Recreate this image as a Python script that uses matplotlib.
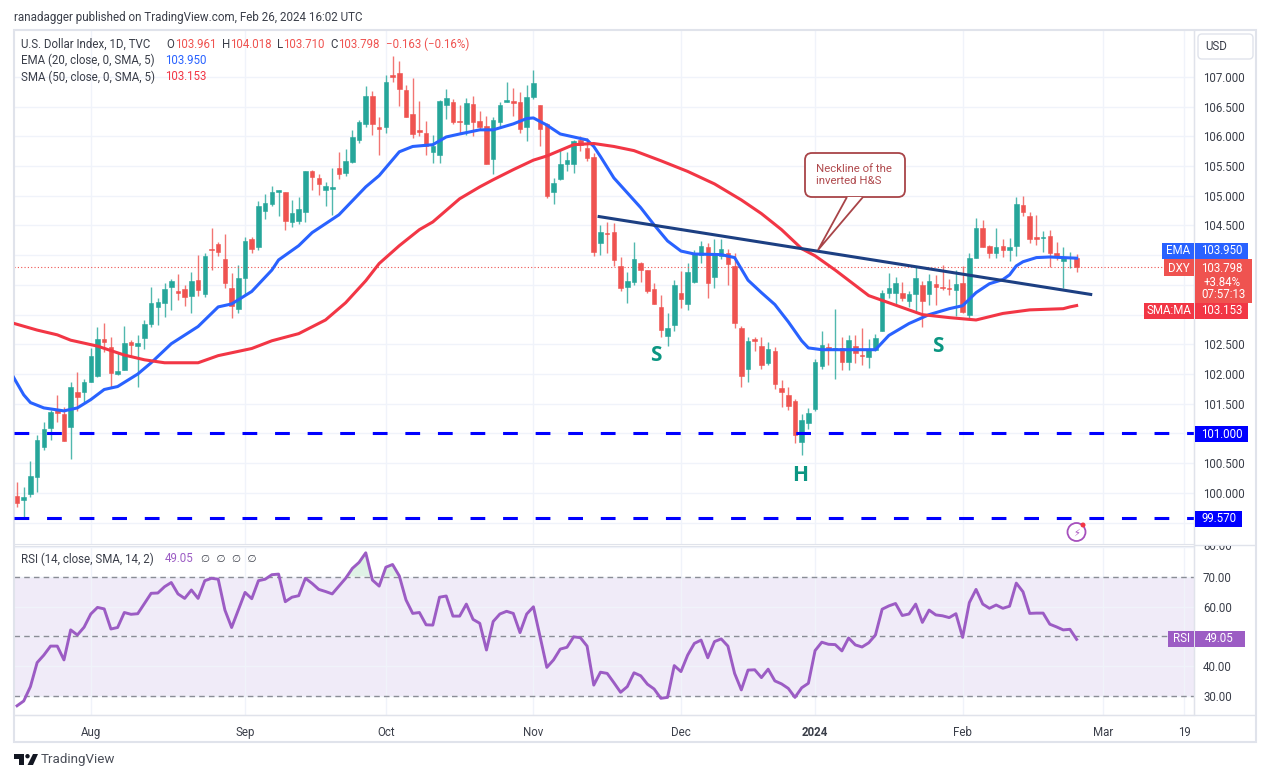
import numpy as np
import matplotlib
matplotlib.use('Agg')
import matplotlib.pyplot as plt
from matplotlib.patches import Rectangle, FancyBboxPatch, Polygon, Circle
from matplotlib.transforms import Affine2D, Bbox

W, H = 1266, 770

opens = [99.95, 99.88, 99.98, 100.27, 100.77, 101.09, 101.42, 101.33, 101.11, 101.70,
         101.70, 101.87, 101.96, 102.59, 102.46, 102.00, 102.07, 102.54, 102.47, 102.61,
         102.85, 103.13, 103.20, 103.47, 103.40, 103.43, 103.32, 103.58, 103.35, 104.11,
         104.19, 103.94, 103.45, 103.10, 103.62, 104.28, 104.13, 104.75, 104.87, 105.07,
         105.07, 104.56, 104.58, 104.73, 105.41, 105.30, 105.09, 105.12, 105.46, 105.39,
         105.57, 105.94, 106.21, 106.68, 106.16, 106.16, 107.04, 107.07, 106.78, 106.38,
         106.11, 106.05, 105.73, 105.68, 106.53, 106.58, 106.26, 106.21, 106.55, 106.26,
         106.18, 105.62, 106.25, 106.58, 106.60, 106.58, 106.16, 106.67, 106.52, 106.21,
         105.07, 105.29, 105.54, 105.54, 105.94, 105.81, 105.66, 104.21, 104.38, 104.39,
         103.82, 103.47, 103.55, 103.87, 103.75, 103.43, 103.13, 102.64, 102.83, 103.37,
         103.18, 103.55, 104.00, 104.13, 103.64, 103.99, 104.04, 103.82, 102.78, 102.09,
         102.59, 102.48, 102.19, 102.39, 101.77, 101.65, 101.55, 100.86, 101.18, 101.42,
         102.14, 102.46, 102.43, 102.44, 102.21, 102.48, 102.32, 102.29, 102.41, 102.73,
         103.37, 103.37, 103.37, 103.23, 103.35, 103.50, 103.35, 103.52, 103.47, 103.45,
         103.42, 103.54, 103.00, 103.96, 104.45, 104.16, 104.03, 104.16, 104.08, 104.16,
         104.85, 104.66, 104.31, 104.29, 104.33, 104.04, 103.91, 103.95, 103.961]
closes = [99.83, 99.93, 100.29, 100.89, 101.08, 101.36, 101.35, 100.88, 101.79, 101.62,
          101.87, 102.31, 102.59, 102.54, 102.02, 102.05, 102.52, 102.49, 102.52, 102.85,
          103.20, 103.21, 103.43, 103.57, 103.37, 103.30, 103.57, 103.42, 103.99, 104.08,
          104.06, 103.54, 103.15, 103.62, 104.24, 104.11, 104.82, 104.88, 105.07, 105.10,
          104.58, 104.71, 104.78, 105.42, 105.32, 105.20, 105.17, 105.14, 105.36, 105.59,
          105.99, 106.25, 106.68, 106.21, 106.13, 106.92, 107.00, 106.80, 106.33, 106.04,
          106.08, 105.83, 105.84, 106.60, 106.65, 106.25, 106.25, 106.56, 106.25, 106.16,
          105.54, 106.28, 106.53, 106.61, 106.56, 106.13, 106.67, 106.90, 106.13, 105.00,
          105.22, 105.54, 105.60, 105.92, 105.86, 105.64, 104.06, 104.39, 104.36, 103.92,
          103.44, 103.57, 103.94, 103.75, 103.40, 103.18, 102.74, 102.78, 103.50, 103.27,
          103.72, 104.04, 104.16, 103.54, 104.03, 104.11, 103.86, 102.86, 101.96, 102.56,
          102.56, 102.16, 102.42, 101.84, 101.69, 101.47, 100.98, 101.23, 101.35, 102.21,
          102.49, 102.43, 102.44, 102.21, 102.58, 102.36, 102.30, 102.41, 102.61, 103.37,
          103.45, 103.54, 103.28, 103.35, 103.62, 103.23, 103.57, 103.47, 103.45, 103.43,
          103.52, 103.05, 103.96, 104.46, 104.14, 104.04, 104.14, 104.09, 104.14, 104.87,
          104.72, 104.28, 104.28, 104.30, 104.04, 103.97, 103.97, 103.97, 103.798]
highs = [100.19, 100.10, 100.54, 100.98, 101.20, 101.40, 101.65, 101.45, 101.86, 102.04,
         101.92, 102.44, 102.80, 102.86, 102.63, 102.37, 102.81, 102.57, 102.66, 102.91,
         103.47, 103.28, 103.53, 103.60, 103.69, 103.50, 103.72, 104.01, 104.03, 104.46,
         104.23, 104.36, 103.70, 103.84, 104.31, 104.31, 104.92, 105.03, 105.17, 105.10,
         105.07, 104.93, 104.98, 105.42, 105.44, 105.37, 105.24, 105.46, 105.74, 105.79,
         106.11, 106.28, 106.85, 106.77, 106.33, 107.04, 107.36, 107.26, 106.87, 106.99,
         106.60, 106.26, 106.03, 106.61, 106.80, 106.63, 106.53, 106.65, 106.68, 106.43,
         106.35, 106.33, 106.58, 106.92, 106.82, 106.75, 106.87, 107.12, 106.53, 106.23,
         105.30, 105.79, 105.74, 105.94, 106.01, 105.98, 105.72, 104.51, 104.56, 104.55,
         103.97, 103.72, 104.23, 103.89, 103.75, 103.54, 103.33, 103.03, 103.58, 103.74,
         103.87, 104.09, 104.24, 104.21, 104.28, 104.28, 104.11, 104.04, 102.81, 102.63,
         102.63, 102.63, 102.54, 102.46, 101.90, 101.79, 101.58, 101.32, 101.43, 102.26,
         102.73, 102.53, 103.10, 102.63, 102.66, 102.65, 102.78, 102.59, 102.68, 103.42,
         103.70, 103.64, 103.55, 103.39, 103.80, 103.57, 103.69, 103.67, 103.84, 103.60,
         103.75, 103.82, 104.04, 104.63, 104.60, 104.18, 104.45, 104.28, 104.29, 104.98,
         105.00, 104.72, 104.68, 104.40, 104.43, 104.23, 104.14, 104.06, 104.018]
lows = [99.76, 99.60, 99.93, 100.02, 100.72, 100.89, 101.20, 100.88, 100.57, 101.37,
        101.53, 101.87, 101.95, 102.37, 101.77, 101.99, 102.07, 102.31, 101.79, 102.42,
        102.80, 102.83, 102.96, 103.07, 103.24, 103.15, 103.03, 103.32, 103.30, 103.75,
        103.99, 103.45, 102.95, 103.03, 103.33, 104.04, 104.09, 104.61, 104.82, 104.66,
        104.43, 104.48, 104.53, 104.56, 105.09, 105.02, 104.83, 104.68, 105.29, 105.34,
        105.56, 105.89, 106.16, 106.03, 105.68, 106.06, 106.92, 106.51, 106.33, 105.97,
        106.00, 105.68, 105.56, 105.56, 106.30, 106.21, 106.06, 106.03, 106.00, 106.11,
        105.54, 105.37, 106.16, 106.57, 106.35, 106.06, 105.92, 106.63, 105.83, 104.97,
        104.87, 105.27, 105.41, 105.39, 105.76, 105.59, 103.99, 104.01, 104.03, 103.82,
        103.39, 103.20, 103.50, 103.55, 103.37, 103.18, 102.63, 102.47, 102.73, 103.12,
        103.07, 103.54, 103.87, 103.28, 103.45, 103.94, 103.50, 102.78, 101.79, 101.86,
        102.39, 102.09, 102.16, 101.75, 101.45, 101.40, 100.84, 100.63, 101.08, 101.37,
        102.09, 102.16, 101.92, 102.07, 102.07, 102.19, 102.16, 102.11, 102.39, 102.73,
        103.28, 103.17, 103.23, 103.13, 103.03, 102.80, 103.17, 103.17, 103.42, 103.33,
        102.97, 103.03, 102.95, 103.96, 104.13, 103.96, 103.96, 103.97, 103.91, 103.99,
        104.66, 104.21, 104.18, 104.06, 103.80, 103.92, 103.45, 103.79, 103.710]

ema_bars = [-1, 1, 2, 4, 7, 9, 11, 13, 15, 18, 20, 23, 27, 30, 32, 35, 38, 39, 42, 44, 48, 52, 54, 57, 59,
            62, 64, 66, 69, 71, 74, 76, 77, 79, 81, 83, 85, 86, 87, 89, 91, 93, 95, 97, 99, 101, 105,
            107, 109, 111, 113, 115, 117, 118, 120, 128, 130, 133, 136, 139, 141, 143, 145, 147, 148,
            149, 150, 152, 154, 158]
ema_vals = [102.04, 101.65, 101.52, 101.43, 101.38, 101.43, 101.57, 101.74, 101.79, 102.00, 102.19, 102.51,
            102.80, 103.13, 103.18, 103.39, 103.75, 103.92, 104.16, 104.38, 104.68, 105.15, 105.34, 105.74,
            105.83, 105.86, 105.99, 106.04, 106.11, 106.11, 106.21, 106.30, 106.31, 106.19, 106.04, 105.99,
            105.94, 105.83, 105.66, 105.30, 105.05, 104.80, 104.51, 104.24, 104.07, 104.02, 104.01, 103.96,
            103.58, 103.37, 103.17, 102.88, 102.56, 102.44, 102.41, 102.41, 102.65, 102.85, 103.00, 103.10,
            103.15, 103.37, 103.52, 103.59, 103.67, 103.82, 103.89, 103.96, 103.97, 103.95]

sma_bars = [-1, 3, 6, 8, 12, 16, 19, 22, 27, 30, 35, 38, 42, 46, 49, 52, 54, 57, 60, 62, 66, 69, 71, 74, 77,
            79, 83, 86, 89, 92, 96, 100, 104, 108, 111, 114, 117, 119, 122, 127, 130, 135, 139, 143, 147,
            151, 156, 157, 158]
sma_vals = [102.87, 102.74, 102.66, 102.57, 102.47, 102.32, 102.24, 102.19, 102.19, 102.31, 102.43, 102.56,
            102.68, 102.91, 103.20, 103.57, 103.86, 104.16, 104.43, 104.56, 104.95, 105.15, 105.27, 105.44,
            105.60, 105.67, 105.86, 105.88, 105.83, 105.76, 105.59, 105.41, 105.20, 104.93, 104.70, 104.43,
            104.11, 103.99, 103.75, 103.32, 103.20, 103.00, 102.95, 102.91, 103.02, 103.08, 103.10, 103.13,
            103.153]

rsi_vals = [26.9, 28.5, 33.3, 41.3, 43.8, 46.8, 46.8, 42.2, 52.2, 50.5, 53.1, 57.5, 59.7, 59.2, 52.5, 53.0,
            58.0, 57.4, 57.6, 61.0, 64.4, 64.5, 66.6, 68.0, 64.2, 62.7, 65.5, 62.7, 68.6, 69.4, 69.1, 58.8,
            53.0, 58.8, 64.7, 62.6, 68.6, 69.1, 70.6, 70.8, 61.6, 63.1, 63.6, 69.4, 67.7, 65.7, 65.0, 64.2,
            66.8, 69.4, 72.7, 74.7, 77.9, 68.8, 66.8, 73.1, 74.0, 70.2, 62.2, 57.7, 58.0, 53.9, 53.8, 63.1,
            63.5, 56.8, 56.8, 60.8, 55.7, 54.4, 45.5, 55.0, 57.5, 58.4, 57.7, 51.3, 57.5, 59.9, 49.9, 39.7,
            42.2, 45.8, 46.4, 49.9, 49.6, 46.8, 33.8, 38.1, 37.7, 34.6, 31.4, 33.3, 37.9, 36.9, 34.1, 32.5,
            29.4, 29.7, 40.3, 38.3, 43.8, 47.7, 48.8, 42.9, 48.3, 49.2, 46.8, 37.7, 32.2, 38.8, 38.9, 36.3,
            39.1, 35.2, 34.2, 32.7, 29.7, 32.9, 34.4, 45.3, 48.1, 47.4, 47.3, 45.2, 49.5, 47.2, 46.5, 47.9,
            50.5, 59.1, 60.2, 61.0, 57.0, 57.5, 60.8, 54.7, 58.8, 57.2, 56.9, 56.3, 57.6, 49.7, 61.3, 65.7,
            60.8, 59.4, 60.5, 59.4, 60.1, 67.8, 64.9, 57.7, 57.8, 57.8, 54.1, 53.2, 52.2, 52.4, 49.05]

neck_bars = [86.8, 160.1]
neck_vals = [104.65, 103.34]
support_levels = [101.0, 99.57]

month_bars = [11, 34, 55, 77, 99, 119, 141, 162, 174]
month_labels = ['Aug', 'Sep', 'Oct', 'Nov', 'Dec', '2024', 'Feb', 'Mar', '19']
price_ticks = [99.5, 100.0, 100.5, 101.0, 101.5, 102.0, 102.5, 103.0, 103.5, 104.0, 104.5, 105.0, 105.5, 106.0, 106.5, 107.0]
price_labels = ['', '100.000', '100.500', '', '101.500', '102.000', '102.500', '', '', '', '104.500',
                '105.000', '105.500', '106.000', '106.500', '107.000']
rsi_ticks = [30, 40, 50, 60, 70, 80]
rsi_labels = ['30.00', '40.00', '', '60.00', '70.00', '']

GREEN = '#26a69a'
RED = '#ef5350'
BLUE = '#2962ff'
SMA_RED = '#f23645'
PURPLE = '#9c5cc4'
GRID = '#f0f3fa'
EDGE = '#e0e3eb'
TXT = '#3a3e49'

plt.rcParams['font.family'] = ['Roboto', 'DejaVu Sans']
plt.rcParams['axes.unicode_minus'] = False

fig = plt.figure(figsize=(W / 100, H / 100), dpi=100, facecolor='white')
# pixel coordinates of the picture, y going down
px = Affine2D().scale(1, -1).translate(0, H)


def pane(l, t, r, b):
    return fig.add_axes([l / W, 1 - b / H, (r - l) / W, (b - t) / H])


def label(x, y, s, **kw):
    kw.setdefault('color', TXT)
    kw.setdefault('fontsize', 8.3)
    kw.setdefault('va', 'center')
    return fig.text(x, y, s, transform=px, **kw)


def tag(l, t, r, b, color):
    fig.add_artist(Rectangle((l, t), r - l, b - t, transform=px, facecolor=color, edgecolor='none', zorder=2))


# outer frame
fig.add_artist(Rectangle((13.5, 30), 1242.5, 712, transform=px, facecolor='white', edgecolor=EDGE, lw=1.5, zorder=-1))

ax = pane(14, 30, 1194, 544)
ax_rsi = pane(14, 546, 1194, 715)
x = np.arange(len(closes))
opens, closes, highs, lows = map(np.array, (opens, closes, highs, lows))

for a in (ax, ax_rsi):
    a.set_xlim(-0.45, 175.5)
    a.set_xticks(month_bars)
    a.grid(True, color=GRID, lw=1)
    a.set_axisbelow(True)
    for s in a.spines.values():
        s.set_color(EDGE)
    a.yaxis.tick_right()
    a.tick_params(length=0, colors=TXT, labelsize=8.3)

ax.set_ylim(99.14, 107.79)
ax.set_yticks(price_ticks)
ax.set_yticklabels(price_labels)
ax.tick_params(axis='y', pad=6.5)
ax.tick_params(axis='x', labelbottom=False)

up = closes >= opens
col = np.where(up, GREEN, RED)
ax.vlines(x, lows, highs, colors=col, lw=1, alpha=0.8, zorder=2)
ax.bar(x, np.abs(closes - opens), bottom=np.minimum(opens, closes), width=0.68, color=col, edgecolor=col, lw=0.4, zorder=3)

ax.axhline(closes[-1], color=RED, lw=0.8, ls=(0, (1, 2)), zorder=2)
ax.plot(ema_bars, ema_vals, color=BLUE, lw=2.2, solid_joinstyle='round', zorder=4)
ax.plot(sma_bars, sma_vals, color=SMA_RED, lw=2.2, solid_joinstyle='round', zorder=4)
ax.plot(neck_bars, neck_vals, color='#1c3f82', lw=2.2, zorder=5)
for lvl in support_levels:
    ax.axhline(lvl, color='#0000ff', lw=2.2, ls=(0, (4.83, 5.83)), dash_capstyle='butt', zorder=5)

for bx, by, s in [(95.3, 102.32, 'S'), (116.7, 100.30, 'H'), (137.3, 102.47, 'S')]:
    ax.text(bx, by, s, color='#0b9682', fontsize=15, fontweight='bold', family='Open Sans', ha='center', va='center', zorder=6)

# RSI pane
ax_rsi.set_ylim(23.83, 80.17)
ax_rsi.set_yticks(rsi_ticks)
ax_rsi.set_yticklabels(rsi_labels)
ax_rsi.tick_params(axis='y', pad=6.5)
ax_rsi.axhspan(30, 70, color='#f0ebf8', zorder=0.5, lw=0)
for lvl in (70, 50, 30):
    ax_rsi.axhline(lvl, color='#8a8d96', lw=1, ls=(0, (4, 3)), zorder=1.5)
rsi = np.array(rsi_vals)
ax_rsi.fill_between(x, 70, rsi, where=rsi > 70, color='#dff2e6', lw=0, zorder=1, interpolate=True)
ax_rsi.plot(x, rsi, color=PURPLE, lw=2.1, solid_joinstyle='round', zorder=3)
ax_rsi.set_xticklabels(month_labels)
ax_rsi.tick_params(axis='x', pad=8)
ax_rsi.get_xticklabels()[5].set_fontweight('bold')

# the 80 label is cut off by the pane divider
label(1203, 546.5, '80.00', clip_on=True, clip_box=Bbox([[1195, H - 715], [1255, H - 545.5]]))

# axis divider
fig.add_artist(Rectangle((1194, 30), 0.01, 685, transform=px, edgecolor=EDGE, lw=1, zorder=1))
fig.add_artist(Rectangle((14, 715), 1242, 0.01, transform=px, edgecolor=EDGE, lw=1, zorder=1))
fig.add_artist(Rectangle((1194, 544.5), 62, 0.01, transform=px, edgecolor=EDGE, lw=1, zorder=1))

# header and legend
label(14, 17, 'ranadagger published on TradingView.com, Feb 26, 2024 16:02 UTC', fontsize=8.4)
label(21, 44.5, 'U.S. Dollar Index, 1D, TVC')
for xo, s, xv, v in [(166, 'O', 175, '103.961'), (222, 'H', 230, '104.018'), (277, 'L', 283, '103.710'), (330, 'C', 338, '103.798')]:
    label(xo, 44.5, s)
    label(xv, 44.5, v, color=RED)
label(386, 44.5, '\u22120.163 (\u22120.16%)', color=RED)
label(21, 60.5, 'EMA (20, close, 0, SMA, 5)')
label(165, 60.5, '103.950', color=BLUE)
label(21, 77, 'SMA (50, close, 0, SMA, 5)')
label(165, 77, '103.153', color=SMA_RED)
label(21, 559, 'RSI (14, close, SMA, 14, 2)')
label(165, 559, '49.05', color=PURPLE)
label(201, 559, '\u2205  \u2205  \u2205  \u2205', family='DejaVu Sans', fontsize=7.5)

# price tags on the axis
tag(1162, 243, 1193.5, 259, BLUE)
tag(1195, 243, 1248, 259, BLUE)
label(1178, 251, 'EMA', color='white', ha='center')
label(1222, 251, '103.950', color='white', ha='center')
tag(1164, 259, 1193.5, 276, RED)
tag(1195, 259, 1252, 303, RED)
label(1179, 268, 'DXY', color='white', ha='center')
label(1222, 268, '103.798', color='white', ha='center')
label(1222, 282, '+3.84%', color='white', ha='center')
label(1223, 295, '07:57:13', color='white', ha='center')
tag(1144, 303, 1193.5, 319, SMA_RED)
tag(1195, 303, 1248, 319, SMA_RED)
label(1169, 311, 'SMA:MA', color='white', ha='center')
label(1222, 311, '103.153', color='white', ha='center')
tag(1195, 426, 1248, 442, '#0000ff')
label(1222, 434, '101.000', color='white', ha='center')
tag(1195, 511, 1242, 527, '#0000ff')
label(1219, 519, '99.570', color='white', ha='center')
tag(1168, 631, 1193.5, 647, PURPLE)
tag(1195, 631, 1245, 647, PURPLE)
label(1181, 639, 'RSI', color='white', ha='center')
label(1219, 639, '49.05', color='white', ha='center')

# USD button
fig.add_artist(FancyBboxPatch((1201, 37), 49, 19, boxstyle='round,pad=3,rounding_size=4', transform=px,
                              facecolor='white', edgecolor=EDGE, lw=1, zorder=2))
label(1216, 47, 'USD', ha='center')

# callout
CALL = '#a84448'
fig.add_artist(FancyBboxPatch((809, 157), 92, 36, boxstyle='round,pad=4,rounding_size=7', transform=px,
                              facecolor='white', edgecolor=CALL, lw=1.3, zorder=6))
fig.add_artist(Polygon([(847, 197), (818, 250), (863, 197)], closed=False, transform=px,
                       facecolor='white', edgecolor=CALL, lw=1.3, zorder=6))
label(815.5, 168.5, 'Neckline of the', color='#b04a4e', fontsize=8.2, zorder=7)
label(815.5, 180.5, 'inverted H&S', color='#b04a4e', fontsize=8.2, zorder=7)

# event icon
fig.add_artist(Circle((1076.5, 532), 9, transform=px, facecolor='white', edgecolor='#a650bd', lw=1.3, zorder=6))
fig.add_artist(Circle((1083, 525), 2.5, transform=px, facecolor='#f23645', edgecolor='none', zorder=7))
label(1076.5, 532.5, '\u26a1', family='DejaVu Sans', color='#a650bd', fontsize=7, ha='center', zorder=7)

# TradingView mark
LOGO = '#131722'
fig.add_artist(Polygon([(14, 754), (24, 754), (24, 765), (19, 765), (19, 759), (14, 759)], transform=px, facecolor=LOGO, edgecolor='none'))
fig.add_artist(Circle((27.5, 756.2), 2.2, transform=px, facecolor=LOGO, edgecolor='none'))
fig.add_artist(Polygon([(33, 754), (38, 754), (33, 765), (27.5, 765)], transform=px, facecolor=LOGO, edgecolor='none'))
label(41, 759.5, 'TradingView', fontsize=9.6, color='#4a4e58')

fig.savefig('out.png', dpi=100)
